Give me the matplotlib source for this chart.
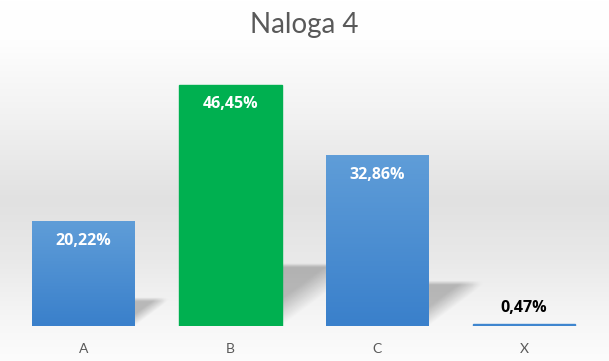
import numpy as np
import matplotlib
matplotlib.use("Agg")
import matplotlib.pyplot as plt
from matplotlib.colors import LinearSegmentedColormap

# podatki
categories = ["A", "B", "C", "X"]
values = [20.22, 46.45, 32.86, 0.47]
title = "Naloga 4"

plt.rcParams["font.family"] = ["Lato", "DejaVu Sans"]

fig = plt.figure(figsize=(6.09, 3.61), dpi=100)

# ozadje z gradientom (belo zgoraj, sivo na sredini, belo spodaj)
bg = fig.add_axes([0, 0, 1, 1], zorder=-10)
rows = np.array([0, 40, 120, 200, 260, 320, 361]) / 361
grey = np.array([255, 254, 241, 225, 233, 246, 252]) / 255
yy = np.linspace(0, 1, 361)
g = np.interp(yy, rows, grey)
img = np.repeat(g[:, None], 2, axis=1)
bg.imshow(np.dstack([img, img, img]), aspect="auto", extent=[0, 1, 1, 0])
bg.set_xlim(0, 1)
bg.set_ylim(1, 0)
bg.axis("off")

ax = fig.add_axes([10 / 609, 35 / 361, 587.5 / 609, 259.5 / 361])
ax.set_facecolor("none")

blue_cmap = LinearSegmentedColormap.from_list("b", ["#3a80cb", "#5f9dd8"])
x = np.arange(len(categories))
width = 0.70
bars = ax.bar(x, values, width=width, color="none", edgecolor="none", zorder=3)

px_x = 147.0   # pikslov na kategorijo
px_y = 5.19    # pikslov na odstotek

for i, b in enumerate(bars):
    x0, x1 = b.get_x(), b.get_x() + b.get_width()
    h = b.get_height()
    # senca za stolpcem (perspektivna, mehka)
    t = 0.25 * h
    s = 0.34 * h * px_y / px_x
    if h > 2:
        n = 80
        u = np.linspace(0, 1, n)[None, :]
        v = np.linspace(0, 1.08, n)[:, None]
        a = np.clip((v - u) / 0.45, 0, 1)
        tpx = t * px_y
        top = np.clip((1.0 - v) * tpx / 4.0 + 0.5, 0, 1)
        right = np.clip((1.0 - u) / 0.25, 0, 1)
        alpha = 0.24 * a * top * right
        rgba = np.zeros((n, n, 4))
        rgba[..., 3] = alpha
        ax.imshow(rgba, aspect="auto", origin="lower",
                  extent=[x1, x1 + s, 0, t * 1.08], zorder=1, interpolation="bilinear")
    # stolpec
    if categories[i] == "B":
        ax.add_patch(plt.Rectangle((x0, 0), x1 - x0, h, color="#00b050", zorder=3))
    elif h > 1:
        grad = ax.imshow(np.linspace(0, 1, 100)[:, None], cmap=blue_cmap, aspect="auto",
                         extent=[x0, x1, 0, h], zorder=3, origin="lower",
                         interpolation="bilinear")
        grad.set_clip_path(b)
    else:
        ax.add_patch(plt.Rectangle((x0, 0), x1 - x0, h, color="#3f86cf", zorder=3))

ax.set_xlim(-0.5, 3.5)
ax.set_ylim(0, 50)

for b, v in zip(bars, values):
    label = f"{v:.2f}".replace(".", ",") + "%"
    cx = b.get_x() + b.get_width() / 2
    if v > 5:
        ax.annotate(label, (cx, v), xytext=(0, -14), textcoords="offset points",
                    ha="center", va="center", color="white", fontsize=11.5,
                    fontweight="bold", family=["Open Sans", "DejaVu Sans"], zorder=5)
    else:
        ax.annotate(label, (cx, v), xytext=(0, 11), textcoords="offset points",
                    ha="center", va="center", color="black", fontsize=11.5,
                    fontweight="bold", family=["Open Sans", "DejaVu Sans"], zorder=5)

ax.set_xticks(x)
ax.set_xticklabels(categories, color="#595959", fontsize=10)
ax.tick_params(axis="x", length=0, pad=12)
ax.set_yticks([])
for sp in ax.spines.values():
    sp.set_visible(False)

fig.text(0.5, 1 - 25 / 361, title, ha="center", va="center", fontsize=20, color="#595959")

fig.savefig("out.png", dpi=100)
